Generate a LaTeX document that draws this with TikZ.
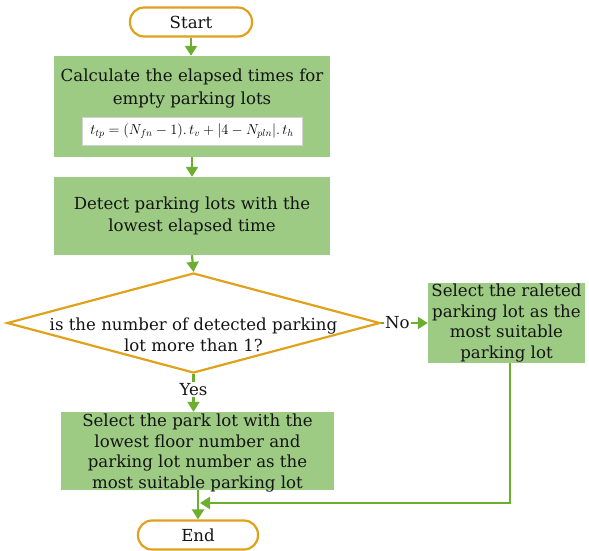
\documentclass[tikz,border=0pt]{standalone}
\usepackage{fontspec}
\setmainfont{DejaVu Serif}
\usetikzlibrary{shapes.geometric,arrows.meta}
\definecolor{boxgreen}{HTML}{9DCB84}
\definecolor{linegreen}{HTML}{6CAE2F}
\definecolor{termorange}{HTML}{E0A11B}
\definecolor{inkdark}{HTML}{141414}

\begin{document}
\begin{tikzpicture}[x=1pt,y=-1pt,
  txt/.style={font=\fontsize{16.6}{20.8}\selectfont, text=inkdark, align=center, inner sep=0pt},
  procbox/.style={fill=boxgreen, draw=none, inner sep=0pt},
  term/.style={txt, draw=termorange, line width=2.2pt, rounded corners=14pt, fill=white, minimum height=29pt},
  flow/.style={draw=linegreen, line width=2.2pt, -{Triangle[width=12pt,length=10pt]}},
  tag/.style={txt, fill=white, inner sep=1.5pt}
]
\useasboundingbox (0,0) rectangle (589,550);

% terminators
\node[term, minimum width=122pt] (start) at (191,22) {Start};
\node[term, minimum width=120pt] (end) at (198,535) {End};

% first process: elapsed times
\node[procbox, minimum width=276pt, minimum height=101pt] (b1) at (192,106.5) {};
\node[txt, font=\fontsize{16.6}{23}\selectfont] (b1t) at (192,88.5) {Calculate the elapsed times for\\empty parking lots};
\node[draw=gray!35, fill=white, line width=0.6pt, minimum width=220pt, minimum height=28pt, inner sep=0pt] (fm) at (192,131)
  {\fontsize{14.5}{16}\selectfont $t_{tp} = (N_{fn}-1).\,t_v + \bigl|4 - N_{pln}\bigr|.\,t_h$};

% second process
\node[procbox, minimum width=276pt, minimum height=78pt] (b2) at (192,216) {};
\node[txt, font=\fontsize{16.6}{22}\selectfont] (b2t) at (192,216) {Detect parking lots with the\\lowest elapsed time};

% decision
\node[diamond, draw=termorange, line width=2.2pt, minimum width=373pt, minimum height=100pt, inner sep=0pt] (dec) at (193.5,323) {};
\node[txt] (dect) at (193.5,334.5) {is the number of detected parking\\lot more than 1?};

% outcomes
\node[procbox, minimum width=157pt, minimum height=80pt] (b4) at (506.5,323) {};
\node[txt] (b4t) at (506.5,323) {Select the raleted\\parking lot as the\\most suitable\\parking lot};
\node[procbox, minimum width=273pt, minimum height=78pt] (b3) at (197.5,451) {};
\node[txt] (b3t) at (197.5,453) {Select the park lot with the\\lowest floor number and\\parking lot number as the\\most suitable parking lot};

% connectors
\draw[flow] (start.south) -- (start.south |- b1.north);
\draw[flow] (b1.south) -- (b2.north);
\draw[flow] (b2.south) -- (dec.north);
\draw[flow] (dec.east) -- node[tag, pos=0.35] {No} (b4.west);
\draw[flow] (dec.south) -- node[tag, pos=0.4] {Yes} (dec.south |- b3.north);
\draw[flow] (end.north |- b3.south) -- (end.north);
\coordinate (meet) at (200,503);
\draw[flow] ([xshift=3.5pt]b4.south) |- (meet);
\end{tikzpicture}
\end{document}
